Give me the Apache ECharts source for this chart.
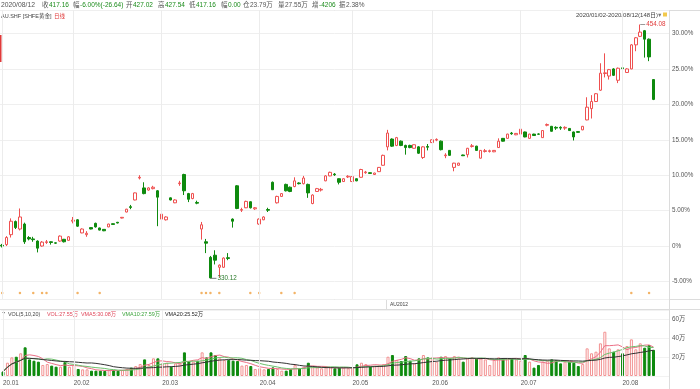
<!DOCTYPE html>
<html><head><meta charset="utf-8">
<script src="https://cdn.jsdelivr.net/npm/echarts@6/dist/echarts.min.js"></script>
<style>html,body{margin:0;padding:0;background:#fff}#c{width:700px;height:389px}</style>
</head><body><div id="c"></div>
<script>
// ---- data (percent change vs. base, as on the right axis) ----
const openPct  = [0.1,0.2,1.6,3.45,2.4,3.1,1.2,1.0,0.7,0.0,0.5,0.6,0.45,0.7,0.95,0.8,3.5,3.7,1.85,1.6,2.6,3.2,2.55,2.35,2.7,3.15,3.35,3.95,4.8,5.55,6.5,9.6,8.2,7.9,8.1,7.8,3.8,3.7,6.8,6.1,8.8,10.1,7.4,6.7,6.15,2.4,0.6,-1.6,-1.3,-3.0,-3.0,-1.65,3.8,8.5,5.05,5.4,6.25,5.25,3.1,3.7,5.15,9.0,6.1,7.0,8.7,8.3,8.4,8.9,8.8,8.7,6.0,7.7,7.9,9.2,9.9,10.15,9.5,9.1,9.75,9.1,9.5,9.7,10.35,10.35,10.1,10.5,11.4,14.0,15.1,14.2,14.8,14.2,14.2,13.8,14.0,12.5,14.05,14.6,14.95,14.8,12.75,13.5,11.1,11.4,12.85,12.9,14.05,14.1,12.4,13.35,13.35,13.3,13.9,15.2,15.2,15.95,15.7,15.8,16.1,15.2,15.8,15.82,15.3,17.05,16.9,16.75,16.75,16.65,16.6,16.1,16.15,16.4,17.8,19.4,20.4,22.0,24.35,24.0,25.0,23.4,25.15,24.5,25.0,28.4,29.6,30.4,29.2,23.5];
const closePct = [0.0,1.2,3.5,2.6,4.1,0.6,1.0,0.9,-0.3,0.55,0.6,0.5,0.4,1.4,0.6,1.3,3.65,2.8,2.4,1.8,2.4,2.7,2.25,2.15,3.1,3.05,3.25,4.05,5.2,5.45,7.5,9.7,7.4,8.2,8.3,6.9,4.5,4.1,6.5,6.5,8.9,7.8,6.6,7.4,6.05,3.0,0.4,-4.5,-2.0,-2.7,-1.7,-1.75,3.5,5.3,5.15,6.3,5.4,5.4,3.8,4.1,5.05,7.95,7.0,7.4,7.8,7.7,9.2,8.8,9.6,7.5,7.2,8.1,8.0,9.9,10.4,10.05,9.0,9.5,9.85,9.8,9.2,10.8,10.45,10.25,10.3,11.1,12.8,15.95,14.1,15.3,14.2,13.9,13.9,14.3,13.1,14.0,13.95,15.0,15.05,13.6,12.85,12.8,11.7,11.7,12.75,13.8,14.15,13.5,13.5,13.45,13.45,13.5,14.8,14.8,15.8,15.85,15.9,16.5,15.4,15.8,15.6,15.78,16.3,17.15,16.2,16.65,16.65,16.75,16.3,15.4,16.05,16.9,19.6,20.4,21.5,24.4,24.45,24.9,24.1,25.1,25.05,25.0,28.4,29.4,30.2,29.2,26.7,20.7];
const lowPct   = [-0.2,0.0,1.2,2.4,2.2,0.3,0.8,0.6,-0.9,-0.1,0.3,0.2,0.3,0.6,0.5,0.75,3.2,2.7,1.8,1.3,2.35,2.6,2.2,2.1,2.65,3.0,3.2,3.9,4.75,5.2,6.45,9.4,7.3,7.8,8.0,2.8,3.2,3.6,6.45,6.05,8.5,7.2,6.2,6.6,5.9,0.9,-1.0,-4.56,-2.6,-4.4,-3.1,-2.0,2.6,5.2,4.8,5.35,5.3,5.1,3.0,3.65,4.8,7.9,6.0,6.95,7.7,7.6,8.3,8.7,8.7,6.8,5.9,7.65,7.7,9.15,9.85,9.9,8.7,9.05,9.6,9.05,9.15,9.65,10.2,10.2,10.05,10.45,11.35,13.5,14.0,14.1,14.1,12.9,13.8,13.75,13.0,12.3,13.5,14.55,14.8,13.5,12.4,12.75,10.55,11.35,12.7,12.5,13.9,13.45,12.35,13.2,13.2,13.25,13.85,14.75,15.15,15.7,15.65,15.75,15.35,15.15,15.55,15.7,15.25,16.9,16.15,16.4,16.4,16.4,16.25,14.9,16.0,16.35,17.75,18.0,20.35,21.9,23.8,23.5,24.0,23.0,24.5,24.45,24.95,27.5,29.5,26.6,26.1,20.6];
const highPct  = [0.3,1.4,3.9,3.6,5.3,3.3,1.4,1.3,0.8,0.7,0.85,0.65,0.5,1.5,1.0,1.4,4.1,3.8,2.5,2.1,2.65,3.3,2.6,2.4,3.15,3.2,3.4,4.1,5.25,5.8,7.55,10.0,9.0,8.3,8.5,7.9,4.7,4.2,6.85,6.6,9.2,10.2,7.5,7.5,6.4,3.4,1.0,-1.4,-0.6,-2.6,-1.6,-1.0,3.9,8.6,5.4,6.4,6.3,5.5,3.9,4.2,5.4,9.1,7.1,7.45,8.8,8.4,9.7,9.0,9.9,8.8,7.3,8.2,8.2,10.0,10.5,10.3,9.55,9.55,10.0,9.85,9.55,10.9,10.6,10.4,10.35,11.15,12.9,16.4,15.2,15.4,14.9,14.3,14.3,14.35,14.1,14.1,14.4,15.05,15.2,14.9,13.1,13.55,11.75,11.75,12.9,13.85,14.4,14.15,13.55,13.7,13.6,13.55,15.2,15.25,15.85,16.1,15.95,16.55,16.15,15.85,15.85,15.9,16.35,17.3,16.95,16.9,16.9,16.9,16.65,16.15,16.2,16.95,21.0,21.3,21.6,25.8,27.2,25.0,25.1,25.2,25.2,25.1,28.5,29.5,31.27,30.5,29.3,23.55];
const volumeWan = [4.6,14.0,19.6,20.3,23.9,30.2,17.5,16.1,15.1,11.6,12.6,10.9,9.8,9.8,14.7,9.8,11.6,7.4,7.0,7.0,5.6,5.6,5.6,5.3,6.3,6.3,5.6,6.3,7.4,8.8,10.5,12.6,17.5,11.6,18.6,18.6,13.3,14.0,9.8,13.3,13.3,24.9,15.8,15.1,16.1,24.9,19.6,24.9,22.1,18.6,16.8,16.8,16.1,15.8,10.9,11.6,10.5,7.4,8.1,7.0,7.4,9.1,7.4,5.6,5.6,7.4,11.6,8.1,9.8,14.0,9.8,9.1,8.1,9.1,9.1,8.1,8.8,8.8,8.1,8.1,12.3,14.0,12.6,9.8,10.9,10.9,12.6,20.3,22.1,16.8,15.8,21.0,16.1,13.3,18.6,22.1,19.6,19.6,15.1,20.3,21.0,18.6,21.0,18.6,15.1,18.6,19.6,18.6,18.6,17.5,11.6,16.8,19.6,18.6,18.6,18.6,17.5,16.1,22.1,15.1,8.8,11.6,15.1,16.1,17.5,16.8,13.3,15.1,15.1,14.0,10.5,12.6,29.1,23.9,25.6,34.4,46.6,29.1,25.6,28.1,23.9,31.6,38.6,28.1,34.4,29.8,32.6,27.55];
const eventIdx = [0,4,7,9,10,17,22,45,46,47,49,56,58,63,66,142,146];
const holidays = ['2020-01-01','2020-01-24','2020-01-27','2020-01-28','2020-01-29','2020-01-30','2020-01-31','2020-04-06','2020-05-01','2020-05-04','2020-05-05','2020-06-25','2020-06-26'];
const highLabel = '454.08', lowLabel = '330.12';
const highIdx = 144, lowIdx = 47;

// ---- trading-day categories ----
const cats = [];
(function(){
  const d = new Date(Date.UTC(2020,0,2)), end = new Date(Date.UTC(2020,7,12));
  while (d <= end) {
    const s = d.toISOString().slice(0,10), w = d.getUTCDay();
    if (w !== 0 && w !== 6 && holidays.indexOf(s) < 0) cats.push(s);
    d.setUTCDate(d.getUTCDate()+1);
  }
})();
const monthStart = [];
cats.forEach((c,i)=>{ if (i===0 || c.slice(5,7)!==cats[i-1].slice(5,7)) monthStart.push(i); });
const axisCats = cats.concat(['','','']);

const RED = '#ef5050', GREEN = '#0e8a0e';
const candleData = cats.map((c,i)=>[openPct[i],closePct[i],lowPct[i],highPct[i]]);
const volData = volumeWan.map((v,i)=>({
  value: v,
  itemStyle: closePct[i] >= openPct[i]
    ? {color:'#fff', borderColor:'#f29090', borderWidth:1}
    : {color:GREEN, borderColor:GREEN, borderWidth:1}
}));
function ma(n){ return volumeWan.map((v,i)=>{ const a=volumeWan.slice(Math.max(0,i-n+1),i+1); return +(a.reduce((s,x)=>s+x,0)/a.length).toFixed(2); }); }

const monthLines = monthStart.map(i=>({xAxis: cats[i]}));
const mlStyle = {silent:true, symbol:['none','none'], label:{show:false}, lineStyle:{color:'#ececec', width:1, type:'solid'}, data: monthLines, animation:false};

const F = '"Liberation Sans", "Noto Sans CJK SC", sans-serif';
function T(x,y,text,fill,size){ return {type:'text', x:x, y:y, silent:true, style:{text:text, fill:fill||'#555', font:(size||6.5)+'px '+F, verticalAlign:'middle'}}; }
function L(x1,y1,x2,y2,c){ return {type:'line', silent:true, shape:{x1:x1,y1:y1,x2:x2,y2:y2}, style:{stroke:c||'#dcdcdc', lineWidth:1}}; }

const G = '#1c8c1c', GR='#555';
const graphics = [
  L(0,10.5,700,10.5), L(0,299.5,700,299.5), L(0,309.5,700,309.5), L(669.5,10,669.5,389), L(386.5,300,386.5,309),
  {type:'rect', silent:true, shape:{x:0,y:35,width:1.5,height:27}, style:{fill:'#e03a3a'}},
  T(1,5,'2020/08/12',GR,6.8), T(42,5,'收',GR), T(49,5,'417.16',G), T(73,5,'幅',GR), T(80,5,'-6.00%(-26.64)',G),
  T(126,5,'开',GR), T(133,5,'427.02',G), T(158,5,'高',GR), T(165,5,'427.54',G), T(189,5,'低',GR), T(196,5,'417.16',G),
  T(221,5,'幅',GR), T(228,5,'0.00',G), T(243,5,'仓',GR), T(250,5,'23.79万',GR), T(278,5,'量',GR), T(285,5,'27.55万',GR),
  T(312,5,'增',GR), T(319,5,'-4206',G), T(339,5,'振',GR), T(346,5,'2.38%',GR),
  T(1,16,'AU.SHF [SHFE黄金]','#444',5.5), T(54,16,'日线','#e03a3a',5.5),
  T(576,15,'2020/01/02-2020/08/12(148日)','#444',6), T(657,15,'▼','#777',5.5),
  {type:'rect', silent:true, shape:{x:663,y:12.5,width:4,height:4}, style:{fill:'#f2c94c'}},
  T(390,305,'AU2012','#444',5),
  T(2,315,'7  VOL(5,10,20)','#444',5.4), T(47,315,'VOL:27.55万','#e0475a',5.4), T(81,315,'VMA5:30.08万','#e0475a',5.4),
  T(122,315,'VMA10:27.59万','#3aa33a',5.4), T(165,315,'VMA20:25.52万','#222',5.4)
];

const chart = echarts.init(document.getElementById('c'), null, {renderer:'canvas'});
chart.setOption({
  animation:false,
  backgroundColor:'#fff',
  grid:[{left:0, width:669, top:10, height:289},{left:0, width:669, top:310, height:66}],
  xAxis:[
    {type:'category', gridIndex:0, data:axisCats, boundaryGap:true, axisLine:{show:false}, axisTick:{show:false}, axisLabel:{show:false}, splitLine:{show:false}},
    {type:'category', gridIndex:1, data:axisCats, boundaryGap:true, axisLine:{show:false}, axisTick:{show:false}, splitLine:{show:false},
     axisLabel:{show:true, interval:(i)=>monthStart.indexOf(i)>=0, formatter:(v)=>'20.'+v.slice(5,7), align:'left', color:'#555', fontSize:6.3, margin:4, fontFamily:F}}
  ],
  yAxis:[
    {type:'value', gridIndex:0, position:'right', min:-7.48, max:33.32, splitNumber:8, scale:true,
     axisLine:{show:false}, axisTick:{show:false},
     axisLabel:{showMinLabel:false, showMaxLabel:false, color:'#555', fontSize:6.3, margin:3, fontFamily:F, formatter:(v)=> v===0?'0%':v.toFixed(2)+'%'},
     splitLine:{lineStyle:{color:'#efefef'}}},
    {type:'value', gridIndex:1, position:'right', min:0, max:69.5, splitNumber:3,
     axisLine:{show:false}, axisTick:{show:false},
     axisLabel:{showMinLabel:false, showMaxLabel:false, color:'#555', fontSize:6.3, margin:3, fontFamily:F, formatter:(v)=>v+'万'},
     splitLine:{lineStyle:{color:'#f2f2f2'}}}
  ],
  series:[
    {type:'candlestick', xAxisIndex:0, yAxisIndex:0, data:candleData, barWidth:3,
     itemStyle:{color:'#fff', color0:GREEN, borderColor:RED, borderColor0:GREEN, borderWidth:1},
     markLine: mlStyle,
     markPoint:{silent:true, animation:false, data:[
       {coord:[highIdx, highPct[highIdx]], symbol:'rect', symbolSize:[5,1], symbolOffset:[2.5,0], itemStyle:{color:'#999'},
        label:{show:true, position:'right', distance:1, formatter:highLabel, color:'#e03a3a', fontSize:6.3, fontFamily:F}},
       {coord:[lowIdx, lowPct[lowIdx]], symbol:'rect', symbolSize:[6,1], symbolOffset:[3,0], itemStyle:{color:'#777'},
        label:{show:true, position:'right', distance:1, formatter:lowLabel, color:'#2a7a2a', fontSize:6.3, fontFamily:F}}
     ]}},
    {type:'scatter', xAxisIndex:0, yAxisIndex:0, data:eventIdx.map(i=>[cats[i], -6.63]), symbolSize:2.5, itemStyle:{color:'#f0a040'}, silent:true},
    {type:'bar', xAxisIndex:1, yAxisIndex:1, data:volData, barWidth:3, markLine: mlStyle},
    {type:'line', xAxisIndex:1, yAxisIndex:1, data:ma(5), symbol:'none', lineStyle:{color:'#ec6f86', width:1}, silent:true},
    {type:'line', xAxisIndex:1, yAxisIndex:1, data:ma(10), symbol:'none', lineStyle:{color:'#6cc06c', width:1}, silent:true},
    {type:'line', xAxisIndex:1, yAxisIndex:1, data:ma(20), symbol:'none', lineStyle:{color:'#333', width:1}, silent:true}
  ],
  graphic: graphics
});
</script></body></html>
